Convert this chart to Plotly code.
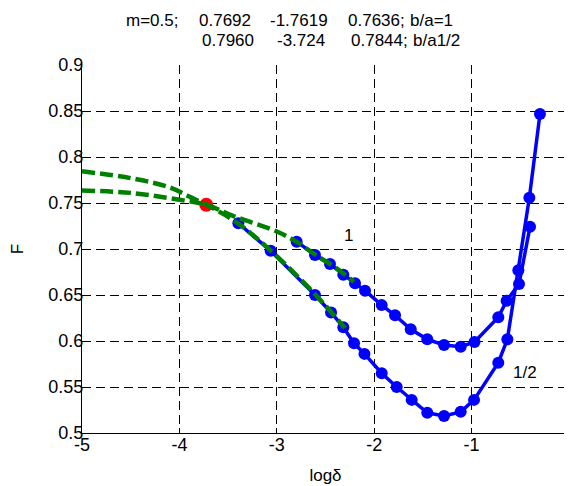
import plotly.graph_objects as go

# ---- data ----
x_one = [-2.796, -2.608, -2.454, -2.317, -2.197, -2.094, -1.923, -1.786, -1.625,
         -1.455, -1.283, -1.112, -0.970, -0.726, -0.640, -0.513, -0.400]
y_one = [0.708, 0.6935, 0.6837, 0.672, 0.6627, 0.6547, 0.639, 0.628, 0.6127,
         0.6018, 0.5957, 0.5938, 0.599, 0.6258, 0.6438, 0.662, 0.7243]

x_half = [-3.395, -3.063, -2.608, -2.443, -2.317, -2.207, -2.100, -1.923, -1.769,
          -1.615, -1.455, -1.283, -1.112, -0.975, -0.726, -0.633, -0.520, -0.407, -0.298]
y_half = [0.728, 0.698, 0.650, 0.631, 0.615, 0.5975, 0.586, 0.565, 0.550,
          0.536, 0.522, 0.5185, 0.523, 0.536, 0.5764, 0.6018, 0.677, 0.7558, 0.8467]

fit_one_x = [-5.0, -4.5, -4.0, -3.72, -3.45, -3.0, -2.8, -2.6, -2.4, -2.21]
fit_one_y = [0.7636, 0.761, 0.7535, 0.748, 0.736, 0.719, 0.708, 0.6935, 0.680, 0.6645]

fit_half_x = [-5.0, -4.5, -4.1, -3.9, -3.72, -3.4, -3.06, -2.6, -2.3]
fit_half_y = [0.7844, 0.777, 0.767, 0.757, 0.748, 0.728, 0.698, 0.650, 0.614]

red_x = [-3.724]
red_y = [0.748]

x_ticks = [-5, -4, -3, -2, -1, 0]
y_ticks = [0.5, 0.55, 0.6, 0.65, 0.7, 0.75, 0.8, 0.85, 0.9]
y_tick_text = ["0.5", "0.55", "0.6", "0.65", "0.7", "0.75", "0.8", "0.85", "0.9"]

title_line1 = ["m=0.5;", "0.7692", "-1.7619", "0.7636;", "b/a=1"]
title_line2 = ["0.7960", "-3.724", "0.7844;", "b/a1/2"]

# ---- layout geometry (page pixels; page body has an 8px margin) ----
OFF = 8
W, H = 564, 478
L, R, T, B = 74, 3, 57, 53
PW, PH = W - L - R, H - T - B

def px2paper(px, py):
    # page pixel -> paper coordinates
    return (px - OFF - L) / PW, (H - B - (py - OFF)) / PH

FONT = "Liberation Sans, Arial, sans-serif"

fig = go.Figure()

blue = "#0000ff"
green = "#008000"

for xs, ys in [(x_one, y_one), (x_half, y_half)]:
    fig.add_trace(go.Scatter(x=xs, y=ys, mode="lines+markers",
                             line=dict(color=blue, width=3.5),
                             marker=dict(color=blue, size=12),
                             showlegend=False, hoverinfo="x+y"))

fig.add_trace(go.Scatter(x=red_x, y=red_y, mode="markers",
                         marker=dict(color="#ff0000", size=14),
                         showlegend=False))

for xs, ys in [(fit_one_x, fit_one_y), (fit_half_x, fit_half_y)]:
    fig.add_trace(go.Scatter(x=xs, y=ys, mode="lines",
                             line=dict(color=green, width=4.5, dash="13px,5px", shape="spline"),
                             showlegend=False))

annotations = []
line1_px = [124, 197, 268, 346, 408]
line2_px = [200, 275, 349, 411]
for txt, px in zip(title_line1, line1_px):
    ax, ay = px2paper(px, 20)
    annotations.append(dict(text=txt, x=ax, y=ay, xref="paper", yref="paper",
                            xanchor="left", yanchor="middle", showarrow=False,
                            font=dict(family=FONT, size=17, color="black")))
for txt, px in zip(title_line2, line2_px):
    ax, ay = px2paper(px, 41)
    annotations.append(dict(text=txt, x=ax, y=ay, xref="paper", yref="paper",
                            xanchor="left", yanchor="middle", showarrow=False,
                            font=dict(family=FONT, size=17, color="black")))

annotations.append(dict(text="1", x=-2.266, y=0.715, showarrow=False,
                        font=dict(family=FONT, size=17, color="black")))
annotations.append(dict(text="1/2", x=-0.452, y=0.5655, showarrow=False,
                        font=dict(family=FONT, size=17, color="black")))

fig.update_layout(
    width=W, height=H,
    margin=dict(l=L, r=R, t=T, b=B, pad=0),
    paper_bgcolor="white", plot_bgcolor="white",
    font=dict(family=FONT, size=17, color="black"),
    annotations=annotations,
    xaxis=dict(range=[-5, 0], tickvals=x_ticks, ticktext=[str(v) for v in x_ticks],
               showgrid=True, gridcolor="black", gridwidth=1, griddash="9px,5px",
               zeroline=False, showline=True, linecolor="black", linewidth=1,
               ticks="inside", ticklen=5, tickcolor="black",
               ticklabelstandoff=-5, ticklabeloverflow="allow",
               tickfont=dict(family=FONT, size=18, color="black"),
               automargin=False,
               title=dict(text="logδ", font=dict(family=FONT, size=17, color="black"), standoff=15)),
    yaxis=dict(range=[0.5, 0.9], tickvals=y_ticks, ticktext=y_tick_text,
               showgrid=True, gridcolor="black", gridwidth=1, griddash="9px,5px",
               zeroline=False, showline=True, linecolor="black", linewidth=1,
               ticks="inside", ticklen=5, tickcolor="black",
               ticklabelstandoff=-6,
               tickfont=dict(family=FONT, size=18, color="black"),
               automargin=False,
               title=dict(text="F", font=dict(family=FONT, size=17, color="black"), standoff=20)),
)

fig.write_html("out.html")
